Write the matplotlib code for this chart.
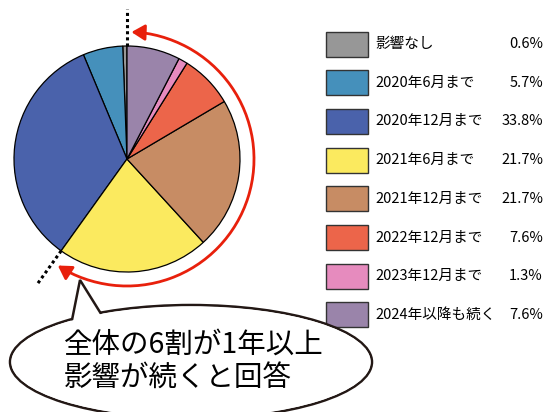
import numpy as np
import matplotlib
matplotlib.use('Agg')
import matplotlib.pyplot as plt
from matplotlib.patches import Ellipse, Polygon, Rectangle, FancyArrowPatch
from matplotlib.path import Path

plt.rcParams['font.family'] = ['Noto Sans CJK JP', 'DejaVu Sans']

labels = ['影響なし', '2020年6月まで', '2020年12月まで', '2021年6月まで',
          '2021年12月まで', '2022年12月まで', '2023年12月まで', '2024年以降も続く']
values = [0.6, 5.7, 33.8, 21.7, 21.7, 7.6, 1.3, 7.6]
colors = ['#979797', '#4590bb', '#4a62ab', '#fbea5f',
          '#c78c64', '#ec654a', '#e68bbe', '#9a84aa']
bubble_text = '全体の6割が1年以上\n影響が続くと回答'

W, H = 549, 412
fig = plt.figure(figsize=(W / 100, H / 100), dpi=100)
ax = fig.add_axes([0, 0, 1, 1])

# pie (y axis goes up, so image y -> H - y)
cx, cy, r = 127, H - 159, 113
ax.pie(values, colors=colors, startangle=90, counterclock=True,
       center=(cx, cy), radius=r,
       wedgeprops=dict(edgecolor='black', linewidth=0.9))

# dotted lines at the start and at the end of the "within 2020" part
cum = np.cumsum(values) / 100.0
for ang, r2 in [(90, 150), (90 + 360 * cum[2], 155)]:
    a = np.deg2rad(ang)
    ax.plot([cx + r * np.cos(a), cx + r2 * np.cos(a)],
            [cy + r * np.sin(a), cy + r2 * np.sin(a)],
            color='black', lw=2.2, ls=(0, (1, 1)), zorder=5)

# red arc arrow
ra = 127
arc = Path.arc(-123, 88)
verts = arc.vertices * ra + np.array([cx, cy])
arrow = FancyArrowPatch(path=Path(verts, arc.codes),
                        arrowstyle='<|-|>,head_length=0.5,head_width=0.3',
                        mutation_scale=16, color='#e8200c', lw=2.0, zorder=6)
ax.add_patch(arrow)

# speech bubble
ex, ey, ew, eh = 191, H - 362, 362, 114
ec = '#231815'
ax.add_patch(Ellipse((ex, ey), ew, eh, facecolor='white', edgecolor=ec, lw=1.8, zorder=7))
ax.add_patch(Polygon([(80, H - 280), (70, H - 330), (108, H - 325)], closed=True,
                     facecolor='white', edgecolor=ec, lw=1.8, joinstyle='miter', zorder=8))
ax.add_patch(Ellipse((ex, ey), ew - 3, eh - 3, facecolor='white', edgecolor='none', zorder=9))
ax.text(64, H - 361, bubble_text, fontsize=20.5, ha='left', va='center',
        linespacing=1.15, color='black', zorder=10)

# legend
for i, (lab, val, col) in enumerate(zip(labels, values, colors)):
    yc = H - (44 + i * 38.7)
    ax.add_patch(Rectangle((326, yc - 12.5), 42, 25, facecolor=col,
                           edgecolor='#333333', lw=1.0))
    ax.text(375, yc, lab, fontsize=10.5, ha='left', va='center')
    ax.text(543, yc, f'{val}%', fontsize=10.5, ha='right', va='center')

ax.set_xlim(0, W)
ax.set_ylim(0, H)
ax.set_aspect('equal')
ax.axis('off')

fig.savefig('out.png', dpi=100)
